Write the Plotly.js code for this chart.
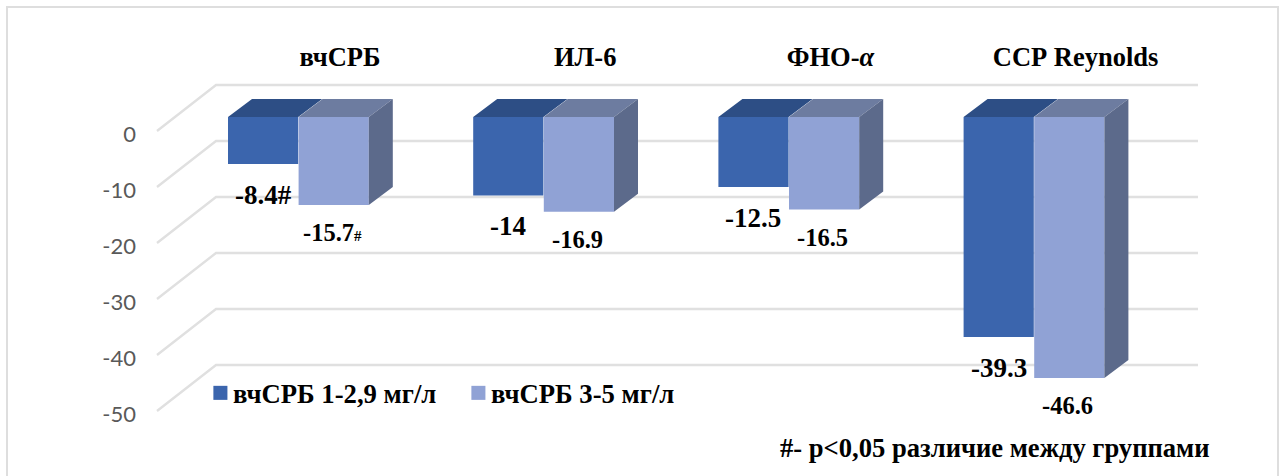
<!DOCTYPE html>
<html>
<head>
<meta charset="utf-8">
<script src="https://cdn.plot.ly/plotly-3.0.1.min.js"></script>
<style>
html,body{margin:0;padding:0;background:#fff;overflow:hidden}
#frame{position:absolute;left:6px;top:6px;width:1273px;height:480px;border:2px solid #dedede;box-sizing:border-box}
#chart{position:absolute;left:0;top:0;width:1287px;height:476px}
</style>
</head>
<body>
<div id="frame"></div>
<div id="chart"></div>
<script>
// ---- data ----
var categories = ['вчСРБ', 'ИЛ-6', 'ФНО-<i>α</i>', 'ССР Reynolds'];
var seriesNames = ['вчСРБ 1-2,9 мг/л', 'вчСРБ 3-5 мг/л'];
var lowCrp = [-8.4, -14, -12.5, -39.3];
var highCrp = [-15.7, -16.9, -16.5, -46.6];
var lowMarks = ['#', '', '', ''];
var highMarks = ['#', '', '', ''];
var yTicks = [0, -10, -20, -30, -40, -50];
var footnote = '#- р<0,05 различие между группами';

// ---- layout geometry ----
var W = 1287, H = 476;
var plot = {l: 140, r: 1250, t: 72, b: 430};
var pxPerCat = 245.2, pxPerUnit = 5.6, cat0 = 340;
var zeroTick = 134, zeroBar = 117;
var xr = [(plot.l - cat0) / pxPerCat, (plot.r - cat0) / pxPerCat];
function yRange(z) { return [-(plot.b - z) / pxPerUnit, (z - plot.t) / pxPerUnit]; }
function dx(px) { return px / pxPerCat; }
function dy(px) { return px / pxPerUnit; }
var barW = dx(70.2), off1 = dx(228 - 340), off2 = dx(298.6 - 340);
var depthX = dx(24), depthY = dy(18);
var cornerX = dx(157 - 340), backX = dx(216 - 340), endX = dx(1198 - 340);
var cornerLift = dy(3), backRise = dy(49);

// gridlines
var gx = [], gy = [];
yTicks.forEach(function (v) {
  gx.push(cornerX, backX, endX, null);
  gy.push(v + cornerLift, v + backRise, v + backRise, null);
});
var grid = {type: 'scatter', mode: 'lines', x: gx, y: gy, xaxis: 'x', yaxis: 'y',
  line: {color: '#e0e0e0', width: 2.4}, showlegend: false, hoverinfo: 'skip'};

// 3D faces
function topFace(off) {
  var x = [], y = [];
  categories.forEach(function (c, i) {
    var a = i + off;
    x.push(a, a + depthX, a + barW + depthX, a + barW, a, null);
    y.push(0, depthY, depthY, 0, 0, null);
  });
  return {x: x, y: y};
}
function sideFace(off, vals) {
  var x = [], y = [];
  vals.forEach(function (v, i) {
    var a = i + off + barW;
    x.push(a, a + depthX, a + depthX, a, a, null);
    y.push(0, depthY, v + depthY, v, 0, null);
  });
  return {x: x, y: y};
}
function face(f, color) {
  return {type: 'scatter', mode: 'lines', x: f.x, y: f.y, xaxis: 'x', yaxis: 'y2', fill: 'toself',
    fillcolor: color, line: {width: 0, color: color}, showlegend: false, hoverinfo: 'skip'};
}
function bar(name, vals, off, color) {
  return {type: 'bar', name: name, x: categories.map(function (c, i) { return i; }), y: vals,
    offset: off, width: barW, xaxis: 'x', yaxis: 'y2', marker: {color: color, line: {width: 0}}};
}
var traces = [
  grid,
  bar(seriesNames[0], lowCrp, off1, '#3b65ad'),
  bar(seriesNames[1], highCrp, off2, '#90a2d5'),
  face(topFace(off1), '#2d4e85'),
  face(topFace(off2), '#6d7ca0'),
  face(sideFace(off2, highCrp), '#5c6a8b')
];

// data labels
var ann = [];
function addLabels(vals, marks, xs, ys, size) {
  vals.forEach(function (v, i) {
    var m = marks[i] ? (size < 25 ? '<span style="font-size:15px">' + marks[i] + '</span>' : marks[i]) : '';
    ann.push({x: i, y: v, xref: 'x', yref: 'y2', xshift: xs, yshift: -ys, text: String(v) + m,
      showarrow: false, xanchor: 'center', yanchor: 'middle',
      font: {family: 'Liberation Serif', size: size, color: '#000', weight: 700}});
  });
}
addLabels(lowCrp, lowMarks, -77, 31, 27);
addLabels(highCrp, highMarks, -8, 28, 24.5);
ann.push({xref: 'paper', yref: 'paper', x: (995 - plot.l) / (plot.r - plot.l), y: (plot.b - 448) / (plot.b - plot.t),
  text: footnote, showarrow: false, xanchor: 'center', yanchor: 'middle',
  font: {family: 'Liberation Serif', size: 26.6, color: '#000', weight: 700}});

var layout = {
  width: W, height: H, autosize: false,
  paper_bgcolor: 'rgba(0,0,0,0)', plot_bgcolor: 'rgba(0,0,0,0)',
  margin: {l: plot.l, r: W - plot.r, t: plot.t, b: H - plot.b, pad: 0},
  barmode: 'overlay',
  xaxis: {type: 'linear', range: xr, side: 'top', tickmode: 'array', tickvals: categories.map(function (c, i) { return i; }),
    ticktext: categories, showgrid: false, zeroline: false, showline: false, ticks: '',
    tickfont: {family: 'Liberation Serif', size: 26.5, color: '#000', weight: 700}},
  yaxis: {range: yRange(zeroTick), tickmode: 'array', tickvals: yTicks, ticktext: yTicks.map(String),
    showgrid: false, zeroline: false, showline: false, ticks: '', ticklabelstandoff: 3,
    tickfont: {family: 'Lato', size: 22, color: '#595959'}},
  yaxis2: {range: yRange(zeroBar), overlaying: 'y', visible: false, showgrid: false, zeroline: false},
  legend: {orientation: 'h', x: (193 - plot.l) / (plot.r - plot.l), xanchor: 'left',
    y: (plot.b - 393) / (plot.b - plot.t), yanchor: 'middle', bgcolor: 'rgba(0,0,0,0)', itemwidth: 30,
    entrywidth: 213, entrywidthmode: 'pixels',
    font: {family: 'Liberation Serif', size: 26.7, color: '#000', weight: 700}},
  annotations: ann
};
Plotly.newPlot('chart', traces, layout, {displayModeBar: false, staticPlot: true}).then(function (gd) {
  // the reference's legend swatches are a little larger and sit closer to their text
  gd.querySelectorAll('.legend .legendpoints').forEach(function (g) {
    g.setAttribute('transform', 'translate(4,0) scale(1.17)');
  });
});
</script>
</body>
</html>
